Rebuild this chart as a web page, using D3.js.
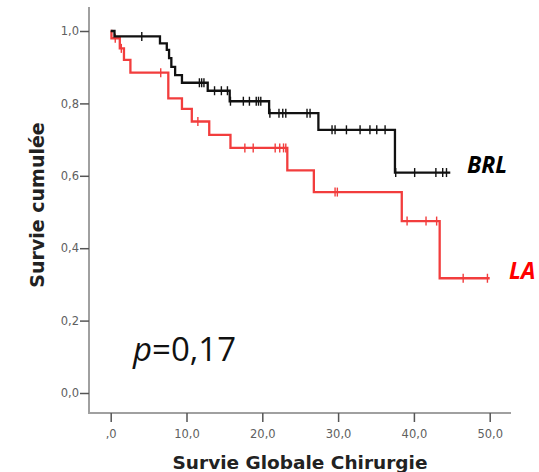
<!DOCTYPE html>
<html>
<head>
<meta charset="utf-8">
<script src="https://cdn.jsdelivr.net/npm/d3@7/dist/d3.min.js"></script>
<style>
  html, body { margin: 0; padding: 0; background: #fff; }
  svg { display: block; }
</style>
</head>
<body>
<svg id="chart" width="539" height="472"></svg>
<script>
// ---- data ----
const yTickValues = [0, 0.2, 0.4, 0.6, 0.8, 1.0];
const yTickLabels = ["0,0", "0,2", "0,4", "0,6", "0,8", "1,0"];
const xTickValues = [0, 10, 20, 30, 40, 50];
const xTickLabels = [",0", "10,0", "20,0", "30,0", "40,0", "50,0"];

// BRL group (black)
const brlEventTimes = [0.5, 6.5, 7.4, 7.7, 8.0, 8.5, 9.4, 12.8, 15.7, 20.9, 27.4, 37.5];
const brlSurvival   = [0.985, 0.966, 0.948, 0.925, 0.901, 0.878, 0.857, 0.835, 0.806, 0.773, 0.727, 0.609];
const brlCensorTimes = [4.1, 11.7, 12.0, 12.3, 13.7, 14.6, 15.4, 15.8, 17.5, 18.3, 19.2, 19.5, 19.8,
                        21.0, 22.2, 22.7, 23.1, 25.9, 26.3, 29.2, 29.6, 31.1, 32.9, 34.2, 35.1, 36.2,
                        37.6, 40.1, 42.9, 43.8, 44.3];
const brlEndTime = 44.8;

// LA group (red)
const laEventTimes = [0.1, 1.2, 1.75, 2.6, 7.6, 9.4, 10.7, 13.0, 15.8, 23.3, 26.8, 38.4, 43.4];
const laSurvival   = [0.980, 0.952, 0.920, 0.885, 0.814, 0.785, 0.750, 0.713, 0.677, 0.615, 0.555, 0.475, 0.317];
const laCensorTimes = [0.6, 1.4, 6.6, 11.5, 17.7, 18.8, 21.7, 22.3, 22.8, 23.1, 29.6, 29.9,
                       39.1, 41.6, 43.0, 46.5, 49.7];
const laEndTime = 50.0;

const yAxisTitle = "Survie cumulée";
const xAxisTitle = "Survie Globale Chirurgie";
const pValueLabel = "=0,17";
const groupNames = ["BRL", "LA"];

// ---- drawing ----
const svg = d3.select("#chart");
const x = d3.scaleLinear().domain([0, 50]).range([110.7, 489.7]);
const y = d3.scaleLinear().domain([0, 1]).range([393, 31]);

const axisColor = "#a0a0a0";
const labelColor = "#606060";

// axis lines (SPSS-style L frame)
const frameLeft = 89, frameBottom = 413, frameTop = 7, frameRight = 511;
svg.append("line").attr("x1", frameLeft).attr("x2", frameLeft)
  .attr("y1", frameTop).attr("y2", frameBottom)
  .attr("stroke", axisColor).attr("stroke-width", 2);
svg.append("line").attr("x1", frameLeft - 1).attr("x2", frameRight)
  .attr("y1", frameBottom).attr("y2", frameBottom)
  .attr("stroke", axisColor).attr("stroke-width", 2);

// Y axis ticks
const yAxis = d3.axisLeft(y).tickValues(yTickValues)
  .tickFormat((d, i) => yTickLabels[i]).tickSize(9).tickPadding(1);
const gy = svg.append("g").attr("transform", `translate(${frameLeft},0)`).call(yAxis);
gy.select(".domain").remove();
gy.selectAll(".tick line").attr("stroke", "#555").attr("stroke-width", 1.5);
gy.selectAll(".tick text").attr("fill", labelColor)
  .style("font-family", "'DejaVu Sans', sans-serif").style("font-size", "11.5px");

// X axis ticks
const xAxis = d3.axisBottom(x).tickValues(xTickValues)
  .tickFormat((d, i) => xTickLabels[i]).tickSize(9).tickPadding(8);
const gx = svg.append("g").attr("transform", `translate(0,${frameBottom})`).call(xAxis);
gx.select(".domain").remove();
gx.selectAll(".tick line").attr("stroke", "#555").attr("stroke-width", 1.5);
gx.selectAll(".tick text").attr("fill", labelColor)
  .style("font-family", "'DejaVu Sans', sans-serif").style("font-size", "11.5px");

// axis titles
svg.append("text").attr("x", 300).attr("y", 469).attr("text-anchor", "middle")
  .style("font-family", "'DejaVu Sans', sans-serif").style("font-size", "18.5px")
  .style("font-weight", "bold").attr("fill", "#222").text(xAxisTitle);
svg.append("text").attr("transform", "translate(44,205) rotate(-90)").attr("text-anchor", "middle")
  .style("font-family", "'DejaVu Sans', sans-serif").style("font-size", "19px")
  .style("font-weight", "bold").attr("fill", "#222").text(yAxisTitle);

// KM curves
function stepPoints(times, surv, endTime) {
  const pts = [[0, 1]];
  times.forEach((t, i) => pts.push([t, surv[i]]));
  pts.push([endTime, surv[surv.length - 1]]);
  return pts;
}
function survAt(times, surv, t) {
  let s = 1;
  times.forEach((tt, i) => { if (tt <= t) s = surv[i]; });
  return s;
}
const line = d3.line().x(d => x(d[0])).y(d => y(d[1])).curve(d3.curveStepAfter);

function drawGroup(times, surv, censors, endTime, color) {
  const g = svg.append("g");
  g.append("path").datum(stepPoints(times, surv, endTime))
    .attr("d", line).attr("fill", "none").attr("stroke", color)
    .attr("stroke-width", 2.3).attr("stroke-linejoin", "miter");
  g.selectAll("line.censor").data(censors).enter().append("line")
    .attr("class", "censor")
    .attr("x1", d => x(d)).attr("x2", d => x(d))
    .attr("y1", d => y(survAt(times, surv, d)) - 4.5)
    .attr("y2", d => y(survAt(times, surv, d)) + 4.5)
    .attr("stroke", color).attr("stroke-width", 1.4);
}
drawGroup(laEventTimes, laSurvival, laCensorTimes, laEndTime, "#f23d3d");
drawGroup(brlEventTimes, brlSurvival, brlCensorTimes, brlEndTime, "#111");

// group labels
svg.append("text").attr("x", 467).attr("y", 173)
  .style("font-family", "'Open Sans', 'DejaVu Sans', sans-serif").style("font-size", "23px")
  .style("font-weight", "bold").style("font-style", "italic").attr("fill", "#000").text(groupNames[0]);
svg.append("text").attr("x", 509).attr("y", 279)
  .style("font-family", "'Open Sans', 'DejaVu Sans', sans-serif").style("font-size", "23px")
  .style("font-weight", "bold").style("font-style", "italic").attr("fill", "#ff0000").text(groupNames[1]);

// p-value
const pt = svg.append("text").attr("x", 133).attr("y", 361)
  .style("font-family", "'Open Sans', sans-serif").style("font-size", "33px").attr("fill", "#111");
pt.append("tspan").style("font-style", "italic").text("p");
pt.append("tspan").text(pValueLabel);
</script>
</body>
</html>
